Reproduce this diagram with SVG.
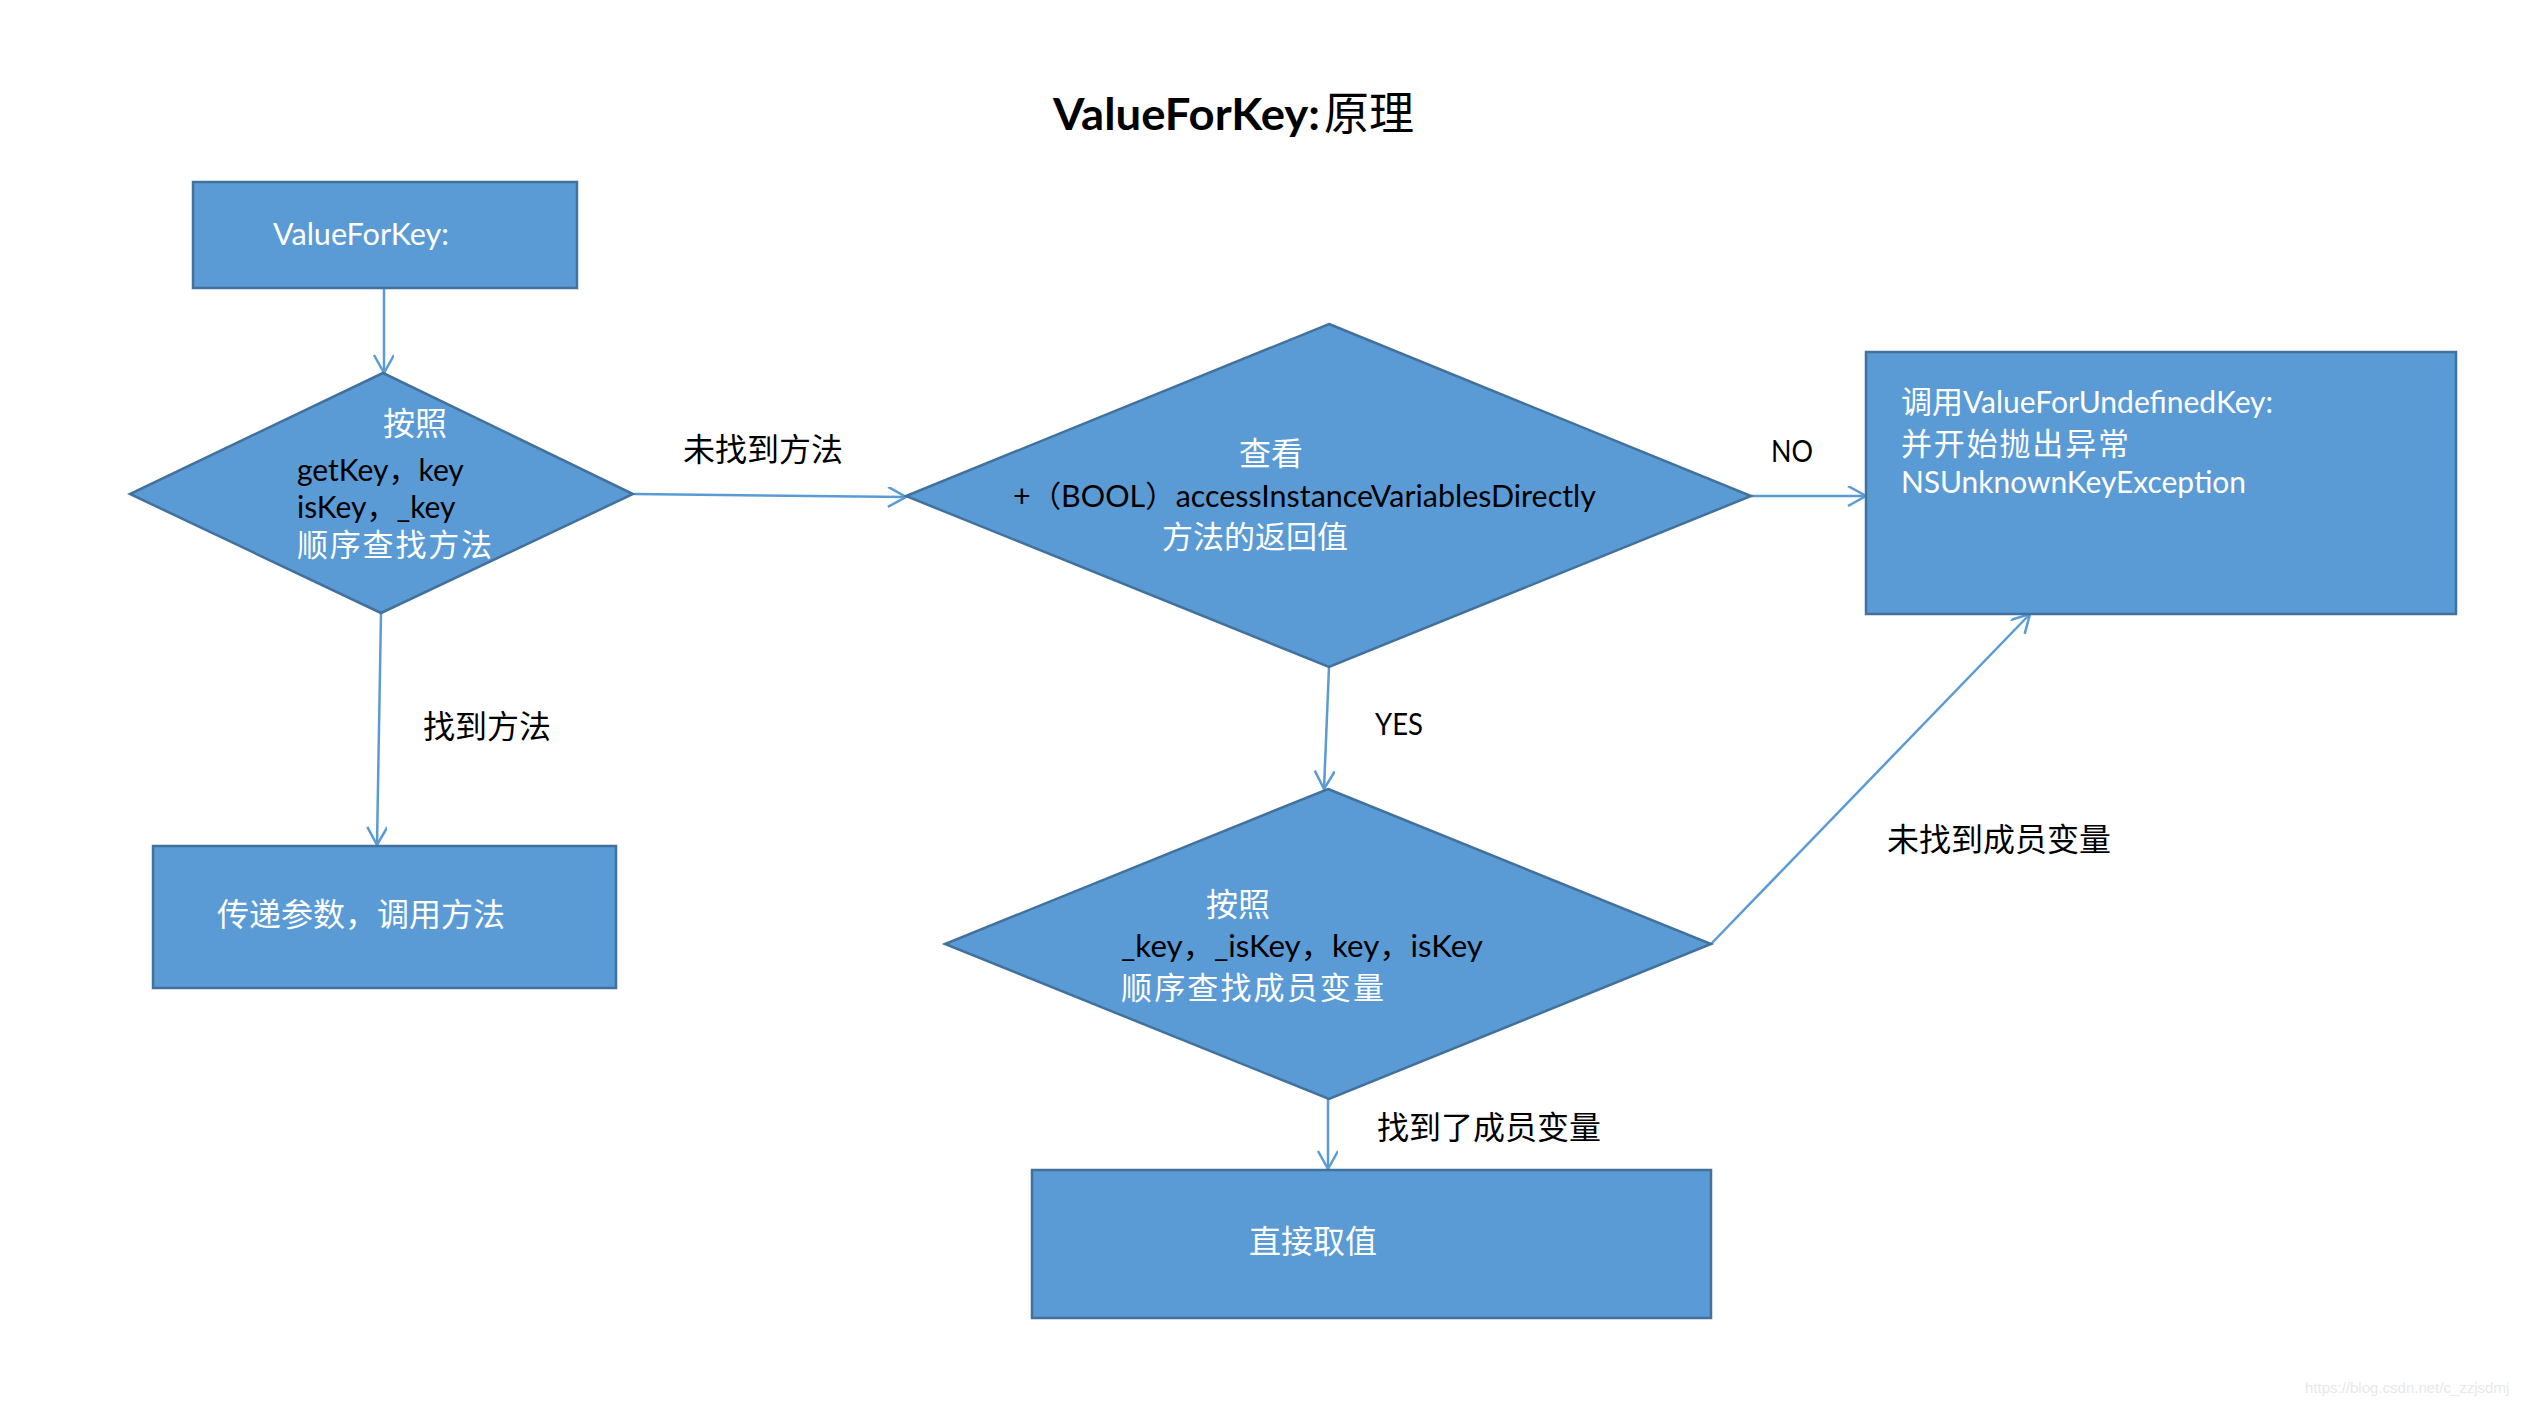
<svg xmlns="http://www.w3.org/2000/svg" width="2528" height="1406" viewBox="0 0 2528 1406">
<style>
.bg{fill:#ffffff}
.node{fill:#5B9BD5;stroke:#41719C;stroke-width:2.5}
.conn{fill:none;stroke:#5B9BD5;stroke-width:2.5}
.cn{font-family:"Noto Sans CJK SC","Noto Sans CJK TC",sans-serif;font-size:32px}
.cs{font-family:"Noto Sans CJK SC","Noto Sans CJK TC",sans-serif;font-size:31px}
.en{font-family:Lato,"Noto Sans CJK SC",sans-serif;font-size:30px}
.w{fill:#ffffff}
.k{fill:#000000}
.title{font-family:Lato,"Noto Sans CJK SC",sans-serif;font-size:43px;font-weight:bold;fill:#000000}
.wm{font-family:"Liberation Sans",sans-serif;font-size:15px;fill:#e8e8e8}
</style>
<defs>
<marker id="arr" markerUnits="userSpaceOnUse" markerWidth="24" markerHeight="24" refX="19" refY="10" orient="auto">
<path d="M1,0 L19,10 L1,20" fill="none" stroke="#5B9BD5" stroke-width="2.5"/>
</marker>
</defs>
<rect class="bg" x="0" y="0" width="2528" height="1406"/>

<g id="title">
<text x="1053" y="130"><tspan class="title" textLength="267" lengthAdjust="spacingAndGlyphs">ValueForKey:</tspan><tspan x="1324" y="130" style="font-family:'Noto Sans CJK SC',sans-serif;font-size:45px;fill:#000">原理</tspan></text>
</g>

<g id="connectors">
<line class="conn" x1="384" y1="288" x2="384" y2="373" marker-end="url(#arr)"/>
<line class="conn" x1="634" y1="494" x2="906" y2="497" marker-end="url(#arr)"/>
<line class="conn" x1="381" y1="613" x2="377" y2="845" marker-end="url(#arr)"/>
<line class="conn" x1="1751" y1="496" x2="1866" y2="496" marker-end="url(#arr)"/>
<line class="conn" x1="1329" y1="667" x2="1324" y2="789" marker-end="url(#arr)"/>
<line class="conn" x1="1711" y1="944" x2="2030" y2="614" marker-end="url(#arr)"/>
<line class="conn" x1="1328" y1="1099" x2="1328" y2="1169" marker-end="url(#arr)"/>
<text class="cn k" x="683" y="461">未找到方法</text>
<text class="cn k" x="423" y="738">找到方法</text>
<text class="en k" x="1771" y="462" textLength="42" lengthAdjust="spacingAndGlyphs">NO</text>
<text class="en k" x="1375" y="735" textLength="48" lengthAdjust="spacingAndGlyphs">YES</text>
<text class="cn k" x="1887" y="851">未找到成员变量</text>
<text class="cn k" x="1377" y="1139">找到了成员变量</text>
</g>

<g id="start">
<rect class="node" x="193" y="182" width="384" height="106"/>
<text class="en w" x="273" y="245" textLength="176" lengthAdjust="spacingAndGlyphs">ValueForKey:</text>
</g>

<g id="find-method">
<polygon class="node" points="383,373 633,494 381,613 130,494"/>
<text class="cn w" x="383" y="435">按照</text>
<text class="en k" x="297" y="481">getKey，key</text>
<text class="en k" x="297" y="518">isKey，_key</text>
<text class="cs w" x="297" y="556" textLength="195" lengthAdjust="spacing">顺序查找方法</text>
</g>

<g id="call-method">
<rect class="node" x="153" y="846" width="463" height="142"/>
<text class="cn w" x="217" y="926">传递参数，调用方法</text>
</g>

<g id="check-access">
<polygon class="node" points="1329,324 1751,496 1329,667 906,496"/>
<text class="cn w" x="1239" y="465">查看</text>
<text class="en k" x="1013" y="507" textLength="583" lengthAdjust="spacingAndGlyphs">+（BOOL）accessInstanceVariablesDirectly</text>
<text class="cs w" x="1162" y="548">方法的返回值</text>
</g>

<g id="undefined-key">
<rect class="node" x="1866" y="352" width="590" height="262"/>
<text x="1901" y="413" class="w"><tspan class="cs">调用</tspan><tspan class="en">ValueForUndefinedKey:</tspan></text>
<text class="cs w" x="1901" y="455" textLength="228" lengthAdjust="spacing">并开始抛出异常</text>
<text class="en w" x="1901" y="493" textLength="345" lengthAdjust="spacingAndGlyphs">NSUnknownKeyException</text>
</g>

<g id="find-ivar">
<polygon class="node" points="1328,789 1711,944 1329,1099 945,944"/>
<text class="cn w" x="1206" y="916">按照</text>
<text class="en k" x="1121" y="957" textLength="362" lengthAdjust="spacingAndGlyphs">_key，_isKey，key，isKey</text>
<text class="cs w" x="1121" y="999" textLength="263" lengthAdjust="spacing">顺序查找成员变量</text>
</g>

<g id="get-value">
<rect class="node" x="1032" y="1170" width="679" height="148"/>
<text class="cn w" x="1249" y="1253">直接取值</text>
</g>

<text class="wm" x="2305" y="1393">https://blog.csdn.net/c_zzjsdmj</text>
</svg>
